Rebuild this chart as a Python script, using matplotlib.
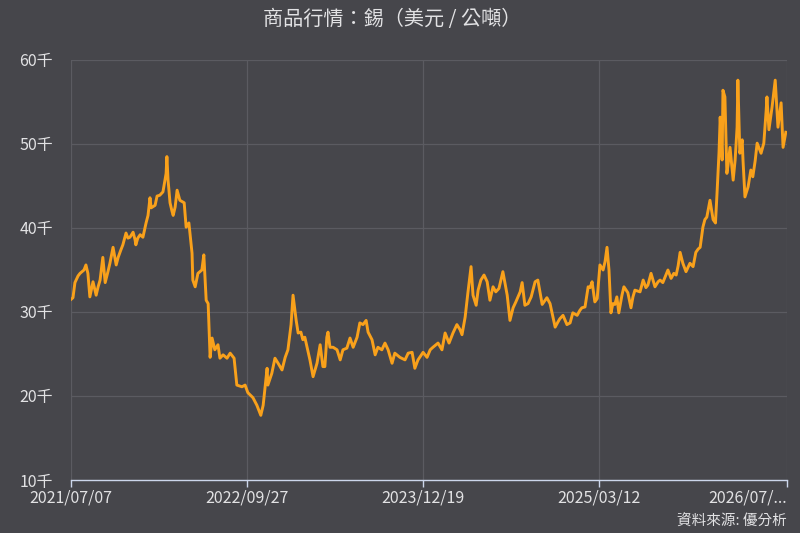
import matplotlib
matplotlib.use("Agg")
import matplotlib.pyplot as plt
import pandas as pd
from matplotlib.ticker import FuncFormatter

plt.rcParams['font.family'] = ['Noto Sans CJK TC', 'DejaVu Sans']

title = "商品行情：錫（美元 / 公噸）"
source = "資料來源: 優分析"

dates = [
    "2021-07-07", "2021-07-12", "2021-07-17", "2021-07-25", "2021-07-30", "2021-08-09", "2021-08-14",
    "2021-08-19", "2021-08-24", "2021-09-01", "2021-09-09", "2021-09-14", "2021-09-19", "2021-09-26",
    "2021-10-02", "2021-10-09", "2021-10-14", "2021-10-22", "2021-10-30", "2021-11-04", "2021-11-11",
    "2021-11-16", "2021-11-24", "2021-11-29", "2021-12-04", "2021-12-12", "2021-12-17", "2021-12-19",
    "2021-12-24", "2021-12-30", "2022-01-06", "2022-01-14", "2022-01-19", "2022-01-24", "2022-01-27",
    "2022-02-06", "2022-02-11", "2022-02-18", "2022-02-26", "2022-03-03", "2022-03-06", "2022-03-08",
    "2022-03-11", "2022-03-16", "2022-03-21", "2022-03-24", "2022-03-29", "2022-04-03", "2022-04-10",
    "2022-04-21", "2022-04-26", "2022-05-03", "2022-05-11", "2022-05-13", "2022-05-19", "2022-05-26",
    "2022-06-05", "2022-06-10", "2022-06-16", "2022-06-21", "2022-06-26", "2022-07-01", "2022-07-08",
    "2022-07-16", "2022-07-21", "2022-07-29", "2022-08-08", "2022-08-16", "2022-08-26", "2022-09-02",
    "2022-09-15", "2022-09-23", "2022-09-30", "2022-10-13", "2022-10-23", "2022-11-02", "2022-11-08",
    "2022-11-18", "2022-11-20", "2022-11-30", "2022-12-08", "2022-12-16", "2022-12-26", "2023-01-03",
    "2023-01-10", "2023-01-18", "2023-01-23", "2023-01-31", "2023-02-05", "2023-02-12", "2023-02-17",
    "2023-02-22", "2023-03-07", "2023-03-15", "2023-03-25", "2023-04-02", "2023-04-09", "2023-04-14",
    "2023-04-19", "2023-04-22", "2023-04-27", "2023-05-05", "2023-05-15", "2023-05-23", "2023-05-30",
    "2023-06-09", "2023-06-17", "2023-06-25", "2023-07-05", "2023-07-12", "2023-07-20", "2023-07-28",
    "2023-08-02", "2023-08-12", "2023-08-20", "2023-08-27", "2023-09-06", "2023-09-14", "2023-09-22",
    "2023-10-02", "2023-10-09", "2023-10-22", "2023-11-04", "2023-11-12", "2023-11-22", "2023-11-29",
    "2023-12-07", "2023-12-20", "2023-12-30", "2024-01-07", "2024-01-14", "2024-01-27", "2024-02-06",
    "2024-02-14", "2024-02-24", "2024-03-05", "2024-03-15", "2024-03-23", "2024-03-28", "2024-04-05",
    "2024-04-12", "2024-04-20", "2024-04-25", "2024-05-03", "2024-05-08", "2024-05-15", "2024-05-23",
    "2024-05-31", "2024-06-07", "2024-06-15", "2024-06-22", "2024-06-30", "2024-07-10", "2024-07-21",
    "2024-07-28", "2024-08-05", "2024-08-12", "2024-08-23", "2024-08-28", "2024-09-04", "2024-09-12",
    "2024-09-20", "2024-09-30", "2024-10-07", "2024-10-18", "2024-10-30", "2024-11-07", "2024-11-12",
    "2024-11-20", "2024-11-27", "2024-12-02", "2024-12-10", "2024-12-20", "2024-12-28", "2025-01-04",
    "2025-01-15", "2025-01-22", "2025-01-27", "2025-02-04", "2025-02-12", "2025-02-17", "2025-02-22",
    "2025-03-01", "2025-03-07", "2025-03-14", "2025-03-22", "2025-03-27", "2025-04-01", "2025-04-06",
    "2025-04-11", "2025-04-16", "2025-04-21", "2025-04-26", "2025-05-01", "2025-05-09", "2025-05-14",
    "2025-05-24", "2025-06-01", "2025-06-06", "2025-06-11", "2025-06-24", "2025-07-02", "2025-07-09",
    "2025-07-14", "2025-07-22", "2025-08-01", "2025-08-09", "2025-08-14", "2025-08-21", "2025-08-27",
    "2025-09-03", "2025-09-11", "2025-09-18", "2025-09-24", "2025-09-29", "2025-10-04", "2025-10-11",
    "2025-10-19", "2025-10-29", "2025-11-06", "2025-11-13", "2025-11-19", "2025-11-24", "2025-12-01",
    "2025-12-06", "2025-12-11", "2025-12-19", "2025-12-27", "2026-01-02", "2026-01-06", "2026-01-11",
    "2026-01-14", "2026-01-19", "2026-01-21", "2026-01-26", "2026-01-31", "2026-02-03", "2026-02-08",
    "2026-02-16", "2026-02-21", "2026-02-26", "2026-02-28", "2026-03-05", "2026-03-11", "2026-03-13",
    "2026-03-18", "2026-03-26", "2026-04-02", "2026-04-07", "2026-04-13", "2026-04-18", "2026-04-28",
    "2026-05-05", "2026-05-11", "2026-05-13", "2026-05-18", "2026-05-26", "2026-06-03", "2026-06-10",
    "2026-06-18", "2026-06-23", "2026-06-30",
]

prices_k = [
    31.5, 31.7, 33.5, 34.3, 34.6, 35.0, 35.6,
    34.6, 31.8, 33.6, 32.0, 33.0, 33.8, 36.5,
    33.5, 34.8, 35.8, 37.7, 35.6, 36.5, 37.4,
    38.0, 39.4, 38.8, 38.9, 39.5, 38.6, 38.0,
    38.8, 39.2, 38.9, 40.6, 41.5, 43.6, 42.4,
    42.7, 43.8, 43.9, 44.3, 45.7, 46.5, 48.5,
    45.7, 43.0, 42.0, 41.5, 42.5, 44.5, 43.3,
    43.0, 40.1, 40.6, 37.0, 33.8, 33.0, 34.6,
    35.0, 36.8, 31.4, 31.0, 24.6, 26.9, 25.5,
    26.1, 24.5, 24.9, 24.5, 25.1, 24.5, 21.3,
    21.1, 21.3, 20.4, 19.8, 18.9, 17.7, 18.9,
    23.3, 21.3, 22.7, 24.5, 23.9, 23.1, 24.6,
    25.5, 28.5, 32.0, 29.0, 27.5, 27.6, 26.7,
    27.0, 24.3, 22.3, 23.9, 26.1, 23.5, 23.5,
    27.0, 27.6, 25.8, 25.8, 25.5, 24.3, 25.5,
    25.7, 26.9, 25.8, 27.0, 28.7, 28.5, 29.0,
    27.6, 26.7, 24.9, 25.8, 25.5, 26.3, 25.5,
    23.9, 25.1, 24.6, 24.3, 25.1, 25.2, 23.3,
    24.3, 25.2, 24.6, 25.5, 25.8, 26.3, 25.5,
    27.5, 26.3, 27.5, 28.5, 27.9, 27.3, 29.4,
    32.3, 35.4, 32.0, 30.8, 32.6, 33.8, 34.4,
    33.6, 31.4, 33.0, 32.4, 32.8, 34.8, 32.0,
    29.0, 30.5, 31.2, 32.4, 33.5, 30.8, 31.0,
    31.8, 33.6, 33.8, 30.9, 31.7, 31.0, 29.9,
    28.2, 28.8, 29.2, 29.6, 28.5, 28.7, 29.9,
    29.6, 30.2, 30.5, 30.6, 33.0, 32.9, 33.6,
    31.2, 31.6, 35.6, 35.0, 36.0, 37.7, 35.0,
    29.9, 31.0, 30.9, 31.8, 29.9, 32.0, 33.0,
    32.3, 30.5, 31.8, 32.6, 32.4, 33.8, 32.9,
    33.2, 34.6, 33.0, 33.6, 33.8, 33.5, 34.2,
    35.0, 34.0, 34.6, 34.4, 35.5, 37.1, 35.8,
    34.8, 35.8, 35.4, 37.1, 37.5, 37.7, 40.1,
    41.0, 41.3, 43.3, 41.0, 40.6, 44.2, 49.0,
    53.2, 48.1, 56.4, 55.6, 46.5, 47.5, 49.6,
    45.7, 48.1, 52.0, 57.6, 48.9, 50.5, 48.1,
    43.7, 44.9, 46.9, 46.1, 48.0, 50.1, 48.9,
    50.1, 54.0, 55.6, 51.7, 54.4, 57.6, 52.0,
    54.9, 49.6, 51.4,
]

x_start = "2021-07-07"
x_end = "2026-07-03"
tick_dates = ["2021-07-07", "2022-09-27", "2023-12-19", "2025-03-12", "2026-07-03"]
tick_labels = ["2021/07/07", "2022/09/27", "2023/12/19", "2025/03/12", "2026/07/..."]
y_ticks = [10000, 20000, 30000, 40000, 50000, 60000]

BG = "#46464b"
GRID = "#5b5b61"
TEXT = "#e2e2e4"
LINE = "#f9a11b"

x = pd.to_datetime(dates)
y = [v * 1000 for v in prices_k]

fig = plt.figure(figsize=(8, 5.33), dpi=100, facecolor=BG)
ax = fig.add_axes([71 / 800, 1 - 480 / 533, 716 / 800, 420 / 533])
ax.set_facecolor(BG)

ax.plot(x, y, color=LINE, lw=2.1, solid_joinstyle="round")

ax.set_xlim(pd.Timestamp(x_start), pd.Timestamp(x_end))
ax.set_ylim(10000, 60000)
ax.set_yticks(y_ticks)
ax.yaxis.set_major_formatter(FuncFormatter(lambda v, p: f"{int(round(v / 1000))}千"))
ax.set_xticks(pd.to_datetime(tick_dates))
ax.set_xticklabels(tick_labels)
xl = ax.get_xticklabels()
xl[-1].set_horizontalalignment("right")

ax.grid(True, color=GRID, lw=0.9)
ax.set_axisbelow(True)
for s in ["top", "right", "left"]:
    ax.spines[s].set_visible(False)
ax.spines["bottom"].set_color("#ccd6eb")
ax.spines["bottom"].set_linewidth(1.0)

ax.tick_params(axis="y", length=0, pad=13, labelsize=11.5, labelcolor=TEXT)
ax.tick_params(axis="x", length=5, width=1, color="#ccd6eb", pad=2, labelsize=11.5, labelcolor=TEXT)

fig.text(0.49, 1 - 20 / 533, title, ha="center", va="center", fontsize=14.5, color=TEXT)
fig.text(787 / 800, 1 - 522 / 533, source, ha="right", va="center", fontsize=10.5, color=TEXT)

fig.savefig("out.png", dpi=100, facecolor=BG)
